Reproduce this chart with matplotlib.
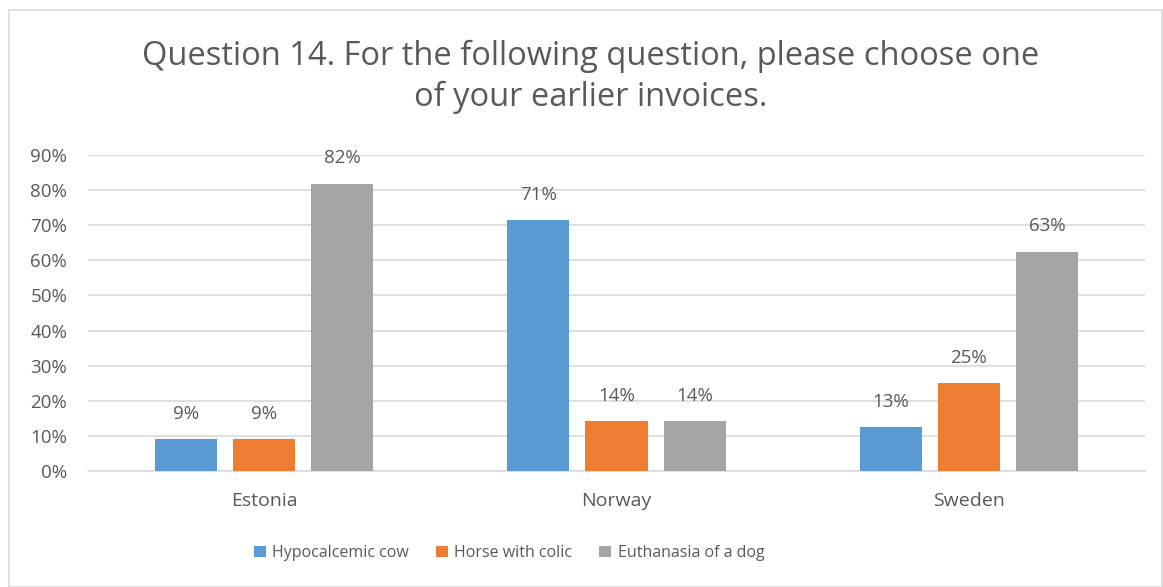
import matplotlib
matplotlib.use("Agg")
import matplotlib.pyplot as plt
import numpy as np
from matplotlib.patches import Rectangle

categories = ["Estonia", "Norway", "Sweden"]
series_names = ["Hypocalcemic cow", "Horse with colic", "Euthanasia of a dog"]
hypocalcemic = [0.0909, 0.7143, 0.125]
horse = [0.0909, 0.1429, 0.25]
euthanasia = [0.8182, 0.1429, 0.625]
labels_hypo = ["9%", "71%", "13%"]
labels_horse = ["9%", "14%", "25%"]
labels_euth = ["82%", "14%", "63%"]
yticks = [0, 0.1, 0.2, 0.3, 0.4, 0.5, 0.6, 0.7, 0.8, 0.9]
ytick_labels = ["0%", "10%", "20%", "30%", "40%", "50%", "60%", "70%", "80%", "90%"]

colors = ["#5B9BD5", "#ED7D31", "#A5A5A5"]
txt = "#595959"
plt.rcParams['font.family'] = ['Open Sans', 'DejaVu Sans']

fig = plt.figure(figsize=(11.63, 5.87), dpi=100)
ax = fig.add_axes([88/1163, 1-471/587, (1145-88)/1163, (471-155)/587])

fig.patches.append(Rectangle((9/1163, 0), 1-9/1163-0.001, 1-10/587, transform=fig.transFigure,
                             fill=False, edgecolor="#D9D9D9", linewidth=1.2))

x = np.arange(len(categories))
w = 62/352
off = 78/352
data = [hypocalcemic, horse, euthanasia]
labs = [labels_hypo, labels_horse, labels_euth]
for i, (vals, lab) in enumerate(zip(data, labs)):
    xs = x + (i-1)*off
    ax.bar(xs, vals, width=w, color=colors[i], label=series_names[i], zorder=3)
    for xi, v, l in zip(xs, vals, lab):
        ax.text(xi, v + 0.072, l, ha="center", va="center", fontsize=13.5, color=txt)

ax.set_xlim(-0.5, 2.5)
ax.set_ylim(0, 0.9)
ax.set_yticks(yticks)
ax.set_yticklabels(ytick_labels, fontsize=13.5, color=txt)
ax.set_xticks(x)
ax.set_xticklabels(categories, fontsize=14, color=txt)
ax.tick_params(axis="y", length=0, pad=15)
ax.tick_params(axis="x", length=0, pad=15)
ax.yaxis.grid(True, color="#D9D9D9", linewidth=1.2, zorder=0)
for s in ["top", "right", "left"]:
    ax.spines[s].set_visible(False)
ax.spines["bottom"].set_color("#D9D9D9")
ax.spines["bottom"].set_linewidth(1.2)
ax.set_axisbelow(True)

fig.text(591/1163, 1-77/587, "Question 14. For the following question, please choose one\nof your earlier invoices.",
         ha="center", va="center", fontsize=23.5, color=txt, linespacing=1.3)

leg = fig.legend(loc="center", bbox_to_anchor=(509/1163, 1-553/587), ncol=3, frameon=False,
                 fontsize=11.5, handlelength=0.75, handleheight=0.75, columnspacing=1.7, handletextpad=0.4)
for t in leg.get_texts():
    t.set_color(txt)

fig.savefig("out.png", dpi=100)
